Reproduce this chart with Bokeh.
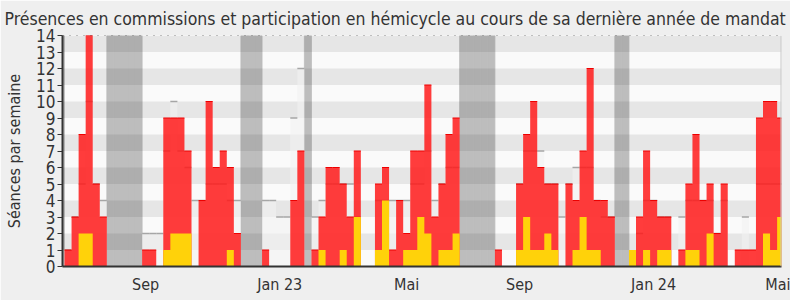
from bokeh.plotting import figure
from bokeh.models import Range1d, FixedTicker, Span
from bokeh.embed import file_html
from bokeh.resources import INLINE

# ---- data (weekly values, week 0 = first week of the period) ----
weeks = list(range(102))
commission = [1, 3, 8, 14, 5, 3, 0, 0, 0, 0,
              0, 1, 1, 0, 9, 9, 9, 7, 0, 4,
              10, 6, 7, 6, 2, 0, 0, 0, 1, 0,
              0, 0, 4, 7, 0, 1, 3, 6, 6, 5,
              3, 7, 0, 0, 5, 6, 1, 4, 2, 7,
              7, 11, 3, 5, 8, 9, 0, 0, 0, 0,
              0, 1, 0, 0, 5, 8, 10, 6, 5, 5,
              0, 5, 4, 7, 12, 4, 4, 3, 0, 0,
              0, 3, 7, 4, 3, 3, 0, 1, 5, 8,
              4, 5, 2, 5, 0, 1, 1, 1, 9, 10,
              10, 9]
hemicycle = [0, 0, 2, 2, 0, 0, 0, 0, 0, 0,
             0, 0, 0, 0, 1, 2, 2, 2, 0, 0,
             0, 0, 0, 1, 0, 0, 0, 0, 0, 0,
             0, 0, 0, 0, 0, 0, 1, 0, 0, 1,
             0, 3, 0, 0, 1, 4, 0, 0, 1, 1,
             3, 2, 0, 1, 1, 2, 0, 0, 0, 0,
             0, 0, 0, 0, 1, 3, 1, 1, 2, 1,
             0, 0, 1, 3, 1, 1, 0, 0, 0, 0,
             1, 0, 1, 0, 1, 1, 0, 0, 1, 1,
             0, 2, 0, 0, 0, 0, 0, 0, 0, 2,
             1, 3]
median = [1, 3, 5, 10, 5, 4, 0, 0, 0, 0,
          0, 2, 2, 2, 7, 10, 7, 6, 4, 4,
          5, 5, 5, 4, 4, 0, 0, 0, 4, 4,
          3, 3, 9, 12, 0, 3, 4, 5, 5, 5,
          5, 3, 0, 0, 4, 4, 4, 4, 4, 5,
          5, 7, 4, 5, 6, 6, 0, 0, 0, 0,
          0, 0, 0, 0, 5, 7, 7, 7, 5, 5,
          3, 5, 6, 6, 6, 4, 3, 3, 0, 0,
          0, 2, 4, 4, 3, 3, 0, 3, 4, 4,
          4, 4, 2, 4, 0, 0, 3, 0, 5, 5,
          5, 5]
vacances = [-1, 6, 7, 8, 9, 10, 25, 26, 27, 34, 56, 57, 58, 59, 60, 78, 79]
tick_weeks = [11, 30, 48, 64, 83, 101]
tick_labels = ["Sep", "Jan 23", "Mai", "Sep", "Jan 24", "Mai"]
y_ticks = list(range(15))

FONT = "DejaVu Sans Condensed"
TXT = "#333333"

# step edges: each week spans [w-0.5, w+0.5]
edges = [w - 0.5 for w in weeks] + [weeks[-1] + 0.5]


def steps(vals):
    return list(vals) + [vals[-1]]


p = figure(width=790, height=300, output_backend="svg", toolbar_location=None,
           x_range=Range1d(-0.784, 101.12), y_range=Range1d(0, 14),
           min_border_left=62, min_border_right=9, min_border_top=35,
           min_border_bottom=34)
p.background_fill_color = "#fafafa"
p.border_fill_color = "#efefef"
p.outline_line_color = None

p.title.text = ("Présences en commissions et participation en hémicycle "
                "au cours de sa dernière année de mandat")
p.title.text_font = FONT
p.title.text_font_size = "17.5px"
p.title.text_font_style = "normal"
p.title.text_color = TXT
p.title.align = "left"
p.title.offset = -58
p.title.standoff = 13

# background bands
p.xgrid.visible = False
p.ygrid.ticker = FixedTicker(ticks=y_ticks)
p.ygrid.grid_line_color = None
p.ygrid.band_fill_color = "black"
p.ygrid.band_fill_alpha = 0.08

# vacations (under the bands)
p.vbar(x=vacances, top=14, width=1, fill_color="#bdbdbd",
       line_color="#bdbdbd", line_width=0.8, level="image")

# median of deputies
p.varea_step(x=edges, y1=0, y2=steps(median), step_mode="after",
             fill_color="#f2f2f2", fill_alpha=0.6)
mw = [w for w, m in zip(weeks, median) if m > 0]
mv = [m for m in median if m > 0]
p.segment(x0=[w - 0.5 for w in mw], x1=[w + 0.5 for w in mw], y0=mv, y1=mv,
          line_color="#a6a6a6", line_width=1.5)

# commission presences
p.varea_step(x=edges, y1=0, y2=steps(commission), step_mode="after",
             fill_color="#ff1a1a", fill_alpha=0.85)
cw = [w for w, c in zip(weeks, commission) if c > 0]
cv = [c for c in commission if c > 0]
p.segment(x0=[w - 0.5 for w in cw], x1=[w + 0.5 for w in cw], y0=cv, y1=cv,
          line_color="#ee0000", line_width=1.2)

# hemicycle participation
p.varea_step(x=edges, y1=0, y2=steps(hemicycle), step_mode="after",
             fill_color="#ffd20a")

p.add_layout(Span(location=14, dimension="width", line_color="#222222",
                  line_dash="1 6", line_width=1))
p.add_layout(Span(location=101.12, dimension="height", line_color="#c8c8c8",
                  line_width=2))

# axes
p.yaxis.ticker = FixedTicker(ticks=y_ticks)
p.yaxis.axis_label = "Séances par semaine"
p.yaxis.axis_label_text_font = FONT
p.yaxis.axis_label_text_font_size = "16px"
p.yaxis.axis_label_text_font_style = "normal"
p.yaxis.axis_label_text_color = TXT
p.yaxis.axis_label_standoff = 9
p.yaxis.major_label_text_font = FONT
p.yaxis.major_label_text_font_size = "17px"
p.yaxis.major_label_text_color = TXT
p.yaxis.major_label_standoff = 2
p.yaxis.major_tick_out = 5
p.yaxis.major_tick_in = 0
p.yaxis.minor_tick_out = 0
p.yaxis.minor_tick_in = 0
p.yaxis.major_tick_line_color = TXT
p.yaxis.axis_line_color = TXT
p.yaxis.axis_line_width = 2

p.xaxis.ticker = FixedTicker(ticks=tick_weeks)
p.xaxis.major_label_overrides = {w: l for w, l in zip(tick_weeks, tick_labels)}
p.xaxis.major_label_text_font = FONT
p.xaxis.major_label_text_font_size = "16px"
p.xaxis.major_label_text_color = TXT
p.xaxis.major_label_standoff = 8
p.xaxis.major_tick_out = 0
p.xaxis.major_tick_in = 0
p.xaxis.minor_tick_out = 0
p.xaxis.minor_tick_in = 0
p.xaxis.axis_line_color = TXT
p.xaxis.axis_line_width = 2

open("out.html", "w").write(file_html(p, INLINE))
